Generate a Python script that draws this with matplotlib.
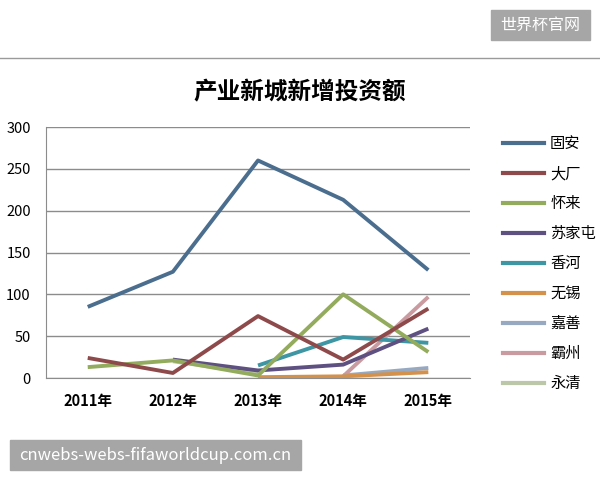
import numpy as np
import matplotlib.pyplot as plt
from matplotlib.patches import Rectangle
from matplotlib.lines import Line2D

plt.rcParams['font.family'] = ['Noto Sans CJK SC', 'DejaVu Sans']

years = ['2011年', '2012年', '2013年', '2014年', '2015年']
names = ['固安', '大厂', '怀来', '苏家屯', '香河', '无锡', '嘉善', '霸州', '永清']
nan = np.nan
guan = [85, 127, 260, 213, 129]
dachang = [24, 6, 74, 22, 83]
huailai = [13, 21, 3, 100, 31]
sujiatun = [nan, 22, 9, 16, 59]
xianghe = [nan, nan, 15, 49, 42]
wuxi = [nan, nan, 1, 2, 7]
jiashan = [nan, nan, nan, 3, 12]
bazhou = [nan, nan, nan, 2, 97]
yongqing = [nan, 20, 5, nan, nan]
series = [guan, dachang, huailai, sujiatun, xianghe, wuxi, jiashan, bazhou, yongqing]
colors = ['#4b6e8f', '#8e4a4a', '#93ab5c', '#5e5080', '#3e95a3',
          '#d4914c', '#97a9c1', '#c99ba0', '#bcc6a8']

fig = plt.figure(figsize=(6, 4.8), dpi=100)
fig.patch.set_facecolor('white')

ax = fig.add_axes([0.0767, 0.2125, 0.7067, 0.5229])
x = np.arange(len(years))
# draw later series first so 固安 etc. stay on top like in the original
for vals, c in list(zip(series, colors))[::-1]:
    ax.plot(x, vals, color=c, lw=2.8, solid_capstyle='butt')

ax.set_xlim(-0.49, len(years) - 0.51)
ax.set_ylim(0, 300)
ax.set_yticks(range(0, 301, 50))
ax.set_xticks(x)
ax.set_xticklabels(years, fontsize=10.5, fontweight='bold')
ax.tick_params(length=0)
ax.tick_params(axis='y', pad=11, labelsize=10.5)
ax.tick_params(axis='x', pad=11)
ax.grid(axis='y', color='#8c8c8c', lw=1)
ax.set_axisbelow(True)
for s in ['top', 'right']:
    ax.spines[s].set_visible(False)
ax.spines['left'].set_color('#8c8c8c')
ax.spines['bottom'].set_color('#8c8c8c')

fig.text(0.5, 0.808, '产业新城新增投资额', ha='center', va='center',
         fontsize=17, fontweight='bold')

# legend
handles = [Line2D([], [], color=c, lw=3) for c in colors]
fig.legend(handles, names, loc='upper left', bbox_to_anchor=(0.815, 0.747),
           frameon=False, fontsize=11, handlelength=2.7, handletextpad=0.4,
           labelspacing=0.85)

# header and watermark boxes
fig.add_artist(Line2D([0, 1], [1 - 58 / 480] * 2, color='#9a9a9a', lw=1))
fig.add_artist(Rectangle((491 / 600, 1 - 40 / 480), 99 / 600, 30 / 480,
                         color='#a6a6a6', transform=fig.transFigure))
fig.text(540.5 / 600, 1 - 25 / 480, '世界杯官网', ha='center', va='center',
         color='white', fontsize=11.5)
fig.add_artist(Rectangle((10 / 600, 1 - 470 / 480), 291 / 600, 30 / 480,
                         color='#a6a6a6', transform=fig.transFigure))
fig.text(155.5 / 600, 1 - 455 / 480, 'cnwebs-webs-fifaworldcup.com.cn',
         ha='center', va='center', color='white', fontsize=12)

fig.savefig('out.png', dpi=100)
